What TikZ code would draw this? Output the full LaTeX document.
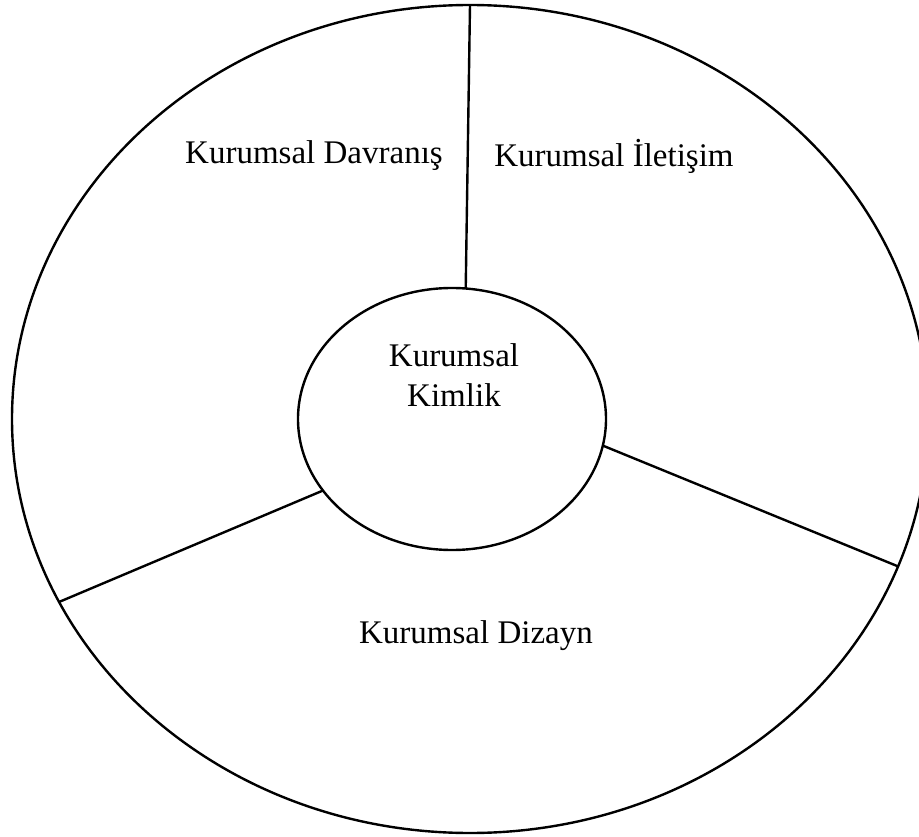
\documentclass[tikz,border=0pt]{standalone}
\usepackage{fontspec}
\setmainfont{Liberation Serif}
\usetikzlibrary{shapes.geometric}
\begin{document}
\begin{tikzpicture}[x=1pt,y=-1pt,
  ring/.style={draw, ellipse, line width=2.4pt, inner sep=0pt, outer sep=0pt},
  divider/.style={line width=2.4pt},
  label/.style={font=\fontsize{33}{40}\selectfont, inner sep=0pt, align=center}]
  \useasboundingbox (0,0) rectangle (919,837);
  % outer and inner ellipses
  \node[ring, minimum width=916pt, minimum height=828pt] (outer) at (470,419) {};
  \node[ring, minimum width=308pt, minimum height=262pt] (inner) at (452,419) {};
  % dividers between the three sectors
  \draw[divider] (outer.90) -- (inner.84.7);
  \draw[divider] (outer.-19.4) -- (inner.-10.1);
  \draw[divider] (outer.204.9) -- (inner.209.8);
  % sector labels
  \node[label] (davranis) at (314,156) {Kurumsal Davranış};
  \node[label] (iletisim) at (614,156) {Kurumsal İletişim};
  \node[label] (dizayn) at (476,636) {Kurumsal Dizayn};
  \node[label] (kimlik) at (454,375) {Kurumsal\\Kimlik};
\end{tikzpicture}
\end{document}
